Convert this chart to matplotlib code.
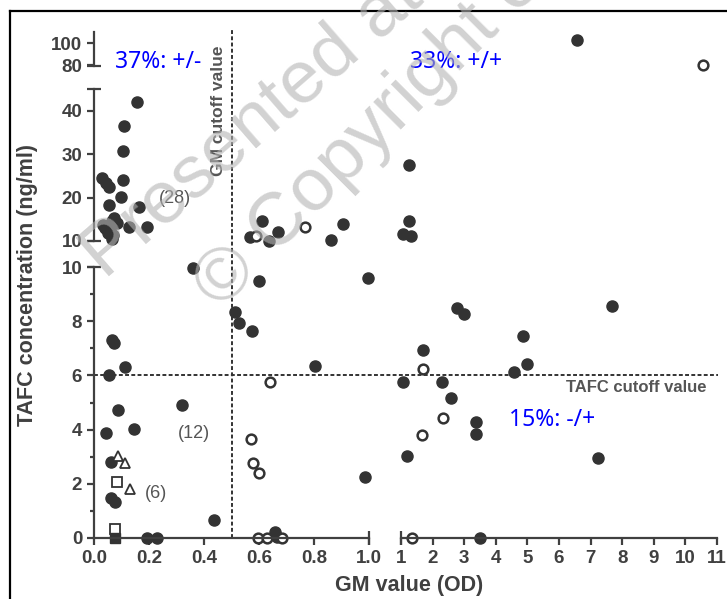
import matplotlib
matplotlib.use("Agg")
import matplotlib.pyplot as plt
import numpy as np
from matplotlib.lines import Line2D
from matplotlib.transforms import blended_transform_factory

plt.rcParams["font.family"] = ["Liberation Sans", "DejaVu Sans"]

# ---- data ----
filled_x = [0.155, 0.110, 0.104, 0.107, 0.028, 0.044, 0.056, 0.097, 0.055, 0.165,
            0.194, 0.128, 0.034, 0.073, 0.064, 0.040, 0.058, 0.052, 0.070, 0.064,
            0.083,
            0.610, 0.567, 0.637, 0.670, 0.861, 0.904,
            1.26, 1.26, 1.07, 1.31,
            6.58,
            0.359, 0.064, 0.073, 0.113, 0.056, 0.089, 0.319, 0.044, 0.147, 0.061,
            0.061, 0.076, 0.436, 0.194, 0.228,
            0.601, 0.997, 0.513, 0.528, 0.576, 0.804, 0.985, 0.658, 0.664,
            2.76, 2.99, 1.69, 1.07, 2.29, 2.58, 3.37, 3.37, 1.18, 4.58,
            4.98, 4.87, 7.69, 7.22, 3.49]
filled_y = [42.1, 36.4, 30.8, 24.1, 24.5, 23.3, 22.4, 20.1, 18.3, 17.9,
            13.3, 13.3, 13.7, 15.2, 14.5, 12.9, 12.9, 11.8, 11.4, 10.5,
            14.1,
            14.5, 11.0, 10.1, 12.0, 10.2, 13.9,
            27.4, 14.6, 11.5, 11.2,
            103.0,
            9.95, 7.31, 7.21, 6.30, 6.01, 4.72, 4.91, 3.89, 4.02, 2.79,
            1.46, 1.34, 0.66, 0.0, 0.0,
            9.48, 9.6, 8.33, 7.92, 7.65, 6.35, 2.24, 0.23, 0.05,
            8.47, 8.27, 6.94, 5.75, 5.75, 5.18, 4.29, 3.84, 3.04, 6.14,
            6.41, 7.45, 8.56, 2.96, 0.0]

open_x = [0.589, 0.768, 10.57, 0.640, 0.570, 0.577, 0.600, 0.598, 0.628, 0.683,
          1.34, 1.69, 2.32, 1.65]
open_y = [11.2, 13.3, 80.5, 5.75, 3.64, 2.78, 2.39, 0.0, 0.0, 0.0,
          0.0, 6.22, 4.42, 3.80]

tri_x = [0.089, 0.113, 0.131]
tri_y = [3.04, 2.78, 1.82]

sq_x = [0.085, 0.078]
sq_y = [2.05, 0.32]

sqf_x = [0.078]
sqf_y = [0.0]

GM_CUTOFF = 0.5
TAFC_CUTOFF = 6.0

# broken axes: x segments (left -> right), y segments (top -> bottom)
X_SEGS = [(0.0, 1.0), (1.0, 11.0)]
Y_SEGS = [(80, 110), (10, 45), (0, 10)]
X_TICKS = [np.round(np.arange(0, 1.01, 0.2), 1), np.arange(1, 12)]
X_TICKLABELS = [[f"{v:.1f}" for v in X_TICKS[0]], [str(v) for v in X_TICKS[1]]]
Y_TICKS = [[80, 100], [10, 20, 30, 40], [0, 2, 4, 6, 8, 10]]

# layout in pixels
W, H = 727, 599
X_BOX = [(94, 369), (401, 717)]
Y_BOX = [(32, 65.5), (89, 241), (267, 538)]

AX_COL = "#404040"
MK_COL = "#333333"
TXT_GRAY = "#555555"
AX_LW = 1.6

fig = plt.figure(figsize=(W / 100, H / 100), dpi=100)
to_fig = fig.transFigure.inverted()


def px_axes(x0, x1, y0, y1):
    return fig.add_axes([x0 / W, 1 - y1 / H, (x1 - x0) / W, (y1 - y0) / H])


def fig_pt(ax, xa, ya):
    return to_fig.transform(ax.transAxes.transform((xa, ya)))


def axis_line(ax, p0, p1):
    (x0, y0), (x1, y1) = fig_pt(ax, *p0), fig_pt(ax, *p1)
    fig.add_artist(Line2D([x0, x1], [y0, y1], color=AX_COL, lw=AX_LW,
                          solid_capstyle="projecting", transform=fig.transFigure,
                          zorder=4))


def cap(ax, xa, ya, marker):
    # small bar across the axis where a segment is broken off
    x, y = fig_pt(ax, xa, ya)
    fig.add_artist(Line2D([x], [y], marker=marker, ms=10, mew=AX_LW, color=AX_COL,
                          ls="none", transform=fig.transFigure, zorder=4))


axes = [[None, None] for _ in range(3)]
for r in range(3):
    for c in range(2):
        ax = px_axes(X_BOX[c][0], X_BOX[c][1], Y_BOX[r][0], Y_BOX[r][1])
        axes[r][c] = ax
        ax.set_xlim(X_SEGS[c])
        ax.set_ylim(Y_SEGS[r])
        ax.set_facecolor("none")
        for s in ax.spines.values():
            s.set_visible(False)
        ax.tick_params(which="both", direction="out", color=AX_COL,
                       labelcolor=AX_COL, labelsize=13.5, width=AX_LW)
        ax.tick_params(which="major", length=5)
        ax.tick_params(which="minor", length=3)
        if c == 0:
            axis_line(ax, (0, 0), (0, 1))
            ax.set_yticks(Y_TICKS[r])
            for lab in ax.get_yticklabels():
                lab.set_fontweight("bold")
            if r == 2:
                ax.set_yticks([1, 3, 5, 7, 9], minor=True)
        else:
            ax.set_yticks([])
        if r == 2:
            axis_line(ax, (0, 0), (1, 0))
            ax.set_xticks(X_TICKS[c])
            ax.set_xticklabels(X_TICKLABELS[c], fontweight="bold")
        else:
            ax.set_xticks([])

        # markers that fall inside this segment
        xlo, xhi = X_SEGS[c]
        ylo, yhi = Y_SEGS[r]
        sets = [
            (filled_x, filled_y, dict(marker="o", ms=8, color=MK_COL, mec=MK_COL)),
            (open_x, open_y, dict(marker="o", ms=7, mfc="white", mec=MK_COL, mew=1.8)),
            (tri_x, tri_y, dict(marker="^", ms=7.5, mfc="white", mec=MK_COL, mew=1.3)),
            (sq_x, sq_y, dict(marker="s", ms=7, mfc="white", mec=MK_COL, mew=1.3)),
            (sqf_x, sqf_y, dict(marker="s", ms=7, color=MK_COL, mec=MK_COL)),
        ]
        for xs, ys, kw in sets:
            xs = np.asarray(xs)
            ys = np.asarray(ys)
            keep = (xs >= xlo) & (xs <= xhi) & (ys >= ylo) & (ys <= yhi)
            if c == 1:
                keep &= xs > xlo
            if keep.any():
                ax.plot(xs[keep], ys[keep], ls="none", clip_on=False, zorder=6, **kw)

# segment caps
cap(axes[0][0], 0, 0, "_")
cap(axes[1][0], 0, 0, "_")
cap(axes[1][0], 0, 1, "_")
cap(axes[2][0], 0, 1, "_")
cap(axes[2][0], 1, 0, "|")
cap(axes[2][1], 0, 0, "|")

# cutoff lines, running across the axis breaks
ax_bl, ax_br, ax_tl = axes[2][0], axes[2][1], axes[0][0]
vx, vy0 = to_fig.transform(ax_bl.transData.transform((GM_CUTOFF, 0)))
_, vy1 = fig_pt(ax_tl, 0, 1.06)
hx0, hy = to_fig.transform(ax_bl.transData.transform((0, TAFC_CUTOFF)))
hx1, _ = fig_pt(ax_br, 1.003, 0)
dash = dict(color=MK_COL, lw=1.4, ls=(0, (2, 1.2)), transform=fig.transFigure, zorder=3)
fig.add_artist(Line2D([vx, vx], [vy0, vy1], **dash))
fig.add_artist(Line2D([hx0, hx1], [hy, hy], **dash))

# annotations
ax_ml = axes[1][0]
ax_ml.text(0.452, 0.86, "GM cutoff value", rotation=90, ha="center", va="center",
           fontsize=12.5, fontweight="bold", color=TXT_GRAY,
           transform=blended_transform_factory(ax_ml.transData, ax_ml.transAxes))
ax_br.text(10.68, 5.55, "TAFC cutoff value", ha="right", va="center",
           fontsize=12, fontweight="bold", color=TXT_GRAY)

blue = dict(color="#0000ff", fontsize=16.5, family=["Noto Sans", "DejaVu Sans"],
            va="center", ha="left")
ax_tl.text(0.077, 83, "37%: +/-", **blue)
axes[0][1].text(1.28, 83, "33%: +/+", **blue)
ax_br.text(4.42, 4.35, "15%: -/+", **blue)

grey = dict(color=TXT_GRAY, fontsize=13, ha="center", va="center")
ax_ml.text(0.295, 19.7, "(28)", **grey)
ax_bl.text(0.362, 3.87, "(12)", **grey)
ax_bl.text(0.224, 1.66, "(6)", **grey)

# axis titles
fig.text(28 / W, 1 - 284.5 / H, "TAFC concentration (ng/ml)", rotation=90,
         ha="center", va="center", fontsize=15.5, fontweight="bold", color=AX_COL)
fig.text(409 / W, 1 - 585 / H, "GM value (OD)", ha="center", va="center",
         fontsize=15.5, fontweight="bold", color=AX_COL)

# frame around the slide
frame = dict(color="black", lw=1.6, transform=fig.transFigure, zorder=10)
fig.add_artist(Line2D([9.5 / W, 9.5 / W], [0, 1 - 10.7 / H], **frame))
fig.add_artist(Line2D([9.5 / W, 1], [1 - 10.7 / H, 1 - 10.7 / H], **frame))

# watermark
wm = dict(fontsize=54, color="#b4b4b4", alpha=0.6, rotation=41, rotation_mode="anchor",
          ha="left", va="baseline", zorder=20)
fig.text(105 / W, 1 - 280 / H, "Presented at", **wm)
wm["rotation"] = 45
fig.text(220 / W, 1 - 310 / H, "© Copyright of", **wm)

fig.savefig("out.png", dpi=100)
